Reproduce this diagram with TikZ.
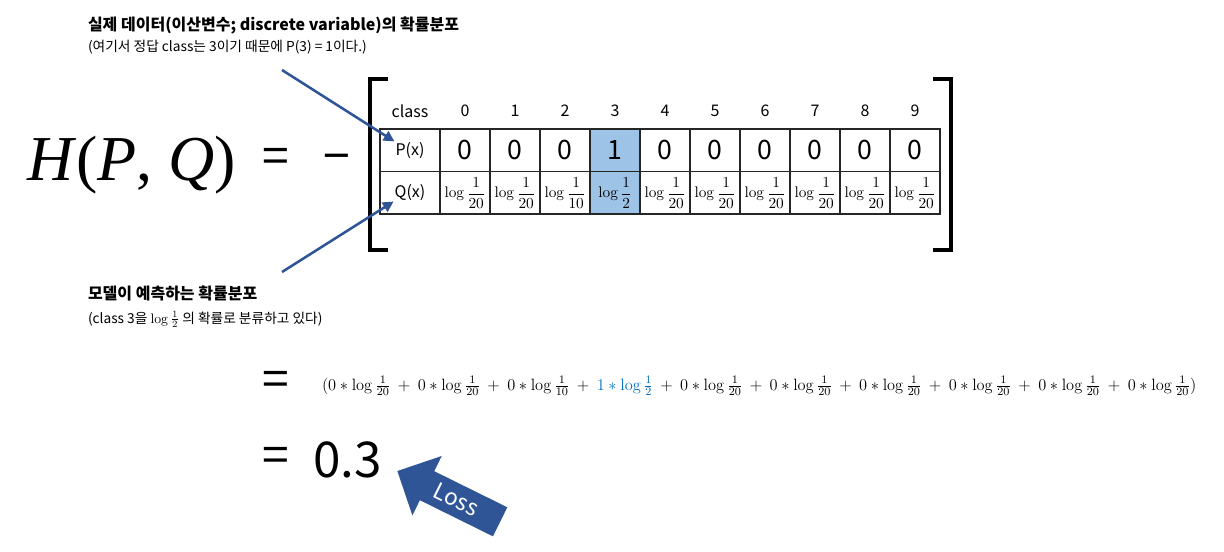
\RequirePackage{fix-cm}
\documentclass[tikz,border=0pt]{standalone}
\usepackage[no-math]{fontspec}
\setmainfont{Noto Sans CJK KR}
\newfontfamily\serifit{Liberation Serif}
\usetikzlibrary{arrows.meta,shapes.arrows}
\definecolor{arrowblue}{HTML}{2F5597}
\definecolor{hiblue}{HTML}{9DC3E6}
\definecolor{termblue}{HTML}{0070C0}
\newcommand{\zterm}[1]{0\ast\log\frac{1}{#1}}
\begin{document}
\begin{tikzpicture}[x=0.75pt,y=-0.75pt,
  every node/.style={inner sep=0pt, outer sep=0pt},
  cell/.style={draw=black!85, line width=0.8pt, minimum width=37.5pt, minimum height=31.9pt},
  labcell/.style={cell, minimum width=45pt},
  hicell/.style={cell, fill=hiblue},
  headtxt/.style={font=\fontsize{12}{14}\selectfont},
  pval/.style={font=\fontsize{20}{24}\selectfont},
  qval/.style={font=\fontsize{11.5}{13}\selectfont},
  rowlab/.style={font=\fontsize{12}{14}\selectfont},
  bigsym/.style={font=\fontsize{36}{40}\selectfont, anchor=base},
  titletxt/.style={font=\fontsize{12}{14}\selectfont\bfseries, anchor=base west},
  subtxt/.style={font=\fontsize{10.3}{12}\selectfont, anchor=base west},
  bracket/.style={line width=2.4pt, line cap=butt, line join=miter},
  callout/.style={draw=arrowblue, line width=1.9pt, -{Triangle[length=8pt,width=8pt]}, shorten >=1pt},
  lossarrow/.style={single arrow, fill=arrowblue, text=white, single arrow head extend=12.7pt,
     shape border rotate=180, rotate=-26.3, minimum height=86pt,
     text height=11pt, text depth=0pt, inner ysep=6.45pt, inner xsep=4pt,
     font=\fontsize{17}{19}\selectfont}
]
\useasboundingbox[fill=white] (0,0) rectangle (1224,552);

% titles
\node[titletxt] (t1) at (88,31) {실제 데이터(이산변수; discrete variable)의 확률분포};
\node[subtxt] (s1) at (88,52) {(여기서 정답 class는 3이기 때문에 P(3) = 1이다.)};
\node[titletxt] (t2) at (88,300) {모델이 예측하는 확률분포};
\node[subtxt] (s2) at (88,323) {(class 3을 $\log\frac{1}{2}$ 의 확률로 분류하고 있다)};

% H(P,Q) = -
\node[anchor=base west, font=\fontsize{48}{52}\selectfont\serifit] (hpq) at (27,181) {\textit{H}(\textit{P}, \textit{Q})};
\node[bigsym] (eq1) at (276,174) {=};
\node[bigsym] (minus) at (337,174) {−};

% brackets
\draw[bracket] (388,79) -- (370,79) -- (370,250) -- (388,250);
\draw[bracket] (933,79) -- (951,79) -- (951,250) -- (933,250);

% table header
\node[headtxt] (hcls) at (410,111) {class};
\foreach \i in {0,...,9} {
  \node[headtxt] (h\i) at (465+50*\i,111) {\i};
}
% label cells
\node[labcell] (pc) at (410,150.25) {};
\node[labcell] (qc) at (410,192.75) {};
\node[rowlab] (ptxt) at (410,150.25) {P(x)};
\node[rowlab] (qtxt) at (410,192.75) {Q(x)};
% P row
\foreach \i/\v in {0/0,1/0,2/0,4/0,5/0,6/0,7/0,8/0,9/0} {
  \node[cell, pval] (p\i) at (465+50*\i,150.25) {\v};
}
\node[hicell, pval] (p3) at (615,150.25) {1};
% Q row
\foreach \i/\d in {0/20,1/20,2/10,4/20,5/20,6/20,7/20,8/20,9/20} {
  \node[cell, qval] (q\i) at (465+50*\i,192.75) {$\displaystyle\log\frac{1}{\d}$};
}
\node[hicell, qval] (q3) at (615,192.75) {$\displaystyle\log\frac{1}{2}$};

% callout arrows
\coordinate (a1s) at (282,70);
\coordinate (a2s) at (282,272);
\draw[callout] (a1s) -- (ptxt.north west);
\draw[callout] (a2s) -- (qtxt.south west);

% second line
\node[bigsym] (eq2) at (276,396) {=};
\node[anchor=base west, font=\fontsize{12.3}{14}\selectfont] (sum) at (322,390)
 {$(\zterm{20}\ +\ \zterm{20}\ +\ \zterm{10}\ +\ {\color{termblue}1\ast\log\frac{1}{2}}\ +\ \zterm{20}\ +\ \zterm{20}\ +\ \zterm{20}\ +\ \zterm{20}\ +\ \zterm{20}\ +\ \zterm{20})$};

% third line
\node[bigsym] (eq3) at (276,472) {=};
\node[anchor=base west, font=\fontsize{37}{40}\selectfont] (res) at (313,477) {0.3};

% loss arrow
\node[lossarrow] (loss) at (456,500) {Loss};
\end{tikzpicture}
\end{document}
